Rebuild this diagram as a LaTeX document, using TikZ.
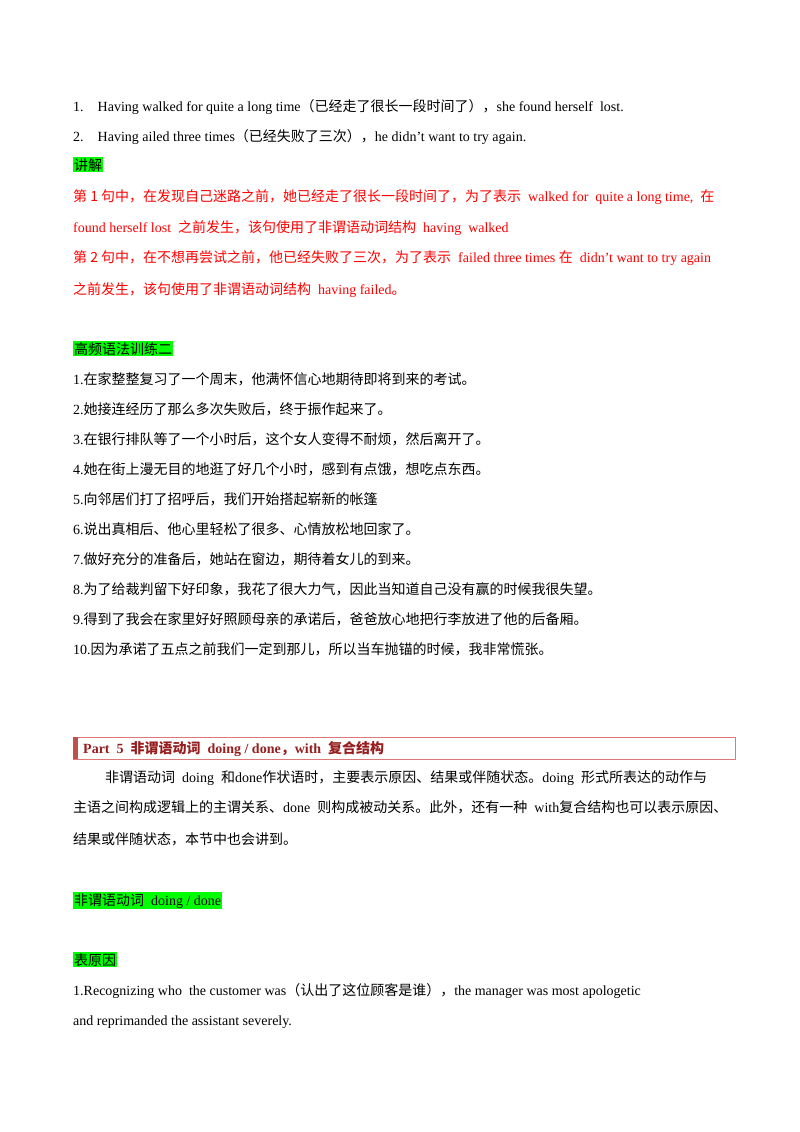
\documentclass[tikz,border=0pt]{standalone}
\usepackage{fontspec}
\setmainfont{Liberation Serif}
\newfontfamily\cjk{Noto Sans CJK SC}
\definecolor{boxline}{RGB}{222,120,120}
\definecolor{boxbar}{RGB}{192,80,77}
\definecolor{boxtext}{RGB}{150,30,30}
\newcommand\zh[1]{{\cjk\fontsize{14}{16}\selectfont #1}}
\begin{document}
\begin{tikzpicture}[x=1pt,y=-1pt,
  ln/.style={anchor=base west,inner sep=0pt,font=\fontsize{14}{16}\selectfont},
  rd/.style={ln,text=red},
  hl/.style={ln,fill=green,inner sep=1pt}]
\useasboundingbox[fill=white] (0,0) rectangle (800,1132);
\node[ln] (l1) at (73,111) {1.\quad Having walked for quite a long time\zh{（已经走了很长一段时间了），}she found herself\ \ lost.};
\node[ln] (l2) at (73,141) {2.\quad Having ailed three times\zh{（已经失败了三次），}he didn't want to try again.};
\node[hl] (h1) at (73,170) {\zh{讲解}};
\node[rd] (r1) at (73,201) {\zh{第 1 句中，在发现自己迷路之前，她已经走了很长一段时间了，为了表示}\ \ walked for\ \ quite a long time,\ \ \zh{在}};
\node[rd] (r2) at (73,232) {found herself lost\ \ \zh{之前发生，该句使用了非谓语动词结构}\ \ having\ \ walked};
\node[rd] (r3) at (73,262) {\zh{第 2 句中，在不想再尝试之前，他已经失败了三次，为了表示}\ \ failed three times \zh{在}\ \ didn't want to try again};
\node[rd] (r4) at (73,294) {\zh{之前发生，该句使用了非谓语动词结构}\ \ having failed\zh{。}};
\node[hl] (h2) at (73,354) {\zh{高频语法训练二}};
\node[ln] (q1) at (73,384) {1.\zh{在家整整复习了一个周末，他满怀信心地期待即将到来的考试。}};
\node[ln] (q2) at (73,414) {2.\zh{她接连经历了那么多次失败后，终于振作起来了。}};
\node[ln] (q3) at (73,444) {3.\zh{在银行排队等了一个小时后，这个女人变得不耐烦，然后离开了。}};
\node[ln] (q4) at (73,474) {4.\zh{她在街上漫无目的地逛了好几个小时，感到有点饿，想吃点东西。}};
\node[ln] (q5) at (73,504) {5.\zh{向邻居们打了招呼后，我们开始搭起崭新的帐篷}};
\node[ln] (q6) at (73,534) {6.\zh{说出真相后、他心里轻松了很多、心情放松地回家了。}};
\node[ln] (q7) at (73,564) {7.\zh{做好充分的准备后，她站在窗边，期待着女儿的到来。}};
\node[ln] (q8) at (73,594) {8.\zh{为了给裁判留下好印象，我花了很大力气，因此当知道自己没有赢的时候我很失望。}};
\node[ln] (q9) at (73,624) {9.\zh{得到了我会在家里好好照顾母亲的承诺后，爸爸放心地把行李放进了他的后备厢。}};
\node[ln] (q10) at (73,654) {10.\zh{因为承诺了五点之前我们一定到那儿，所以当车抛锚的时候，我非常慌张。}};
\draw[boxline,line width=0.8] (73,737) rectangle (735,759);
\fill[boxbar] (73,737) rectangle (78,759);
\node[ln,text=boxtext,font=\bfseries\fontsize{14}{16}\selectfont] (pt) at (83,753) {Part\ \ 5\ \ {\cjk\bfseries\fontsize{14}{16}\selectfont 非谓语动词}\ \ doing / done{\cjk\fontsize{14}{16}\selectfont ，}with\ \ {\cjk\bfseries\fontsize{14}{16}\selectfont 复合结构}};
\node[ln] (p1) at (105,782) {\zh{非谓语动词}\ \ doing\ \ \zh{和}done\zh{作状语时，主要表示原因、结果或伴随状态。}doing\ \ \zh{形式所表达的动作与}};
\node[ln] (p2) at (73,812) {\zh{主语之间构成逻辑上的主谓关系、}done\ \ \zh{则构成被动关系。此外，还有一种}\ \ with\zh{复合结构也可以表示原因、}};
\node[ln] (p3) at (73,844) {\zh{结果或伴随状态，本节中也会讲到。}};
\node[hl] (h3) at (73,905) {\zh{非谓语动词}\ \ doing / done};
\node[hl] (h4) at (73,965) {\zh{表原因}};
\node[ln] (s1) at (73,995) {1.Recognizing who\ \ the customer was\zh{（认出了这位顾客是谁），}the manager was most apologetic};
\node[ln] (s2) at (73,1025) {and reprimanded the assistant severely.};
\end{tikzpicture}
\end{document}
